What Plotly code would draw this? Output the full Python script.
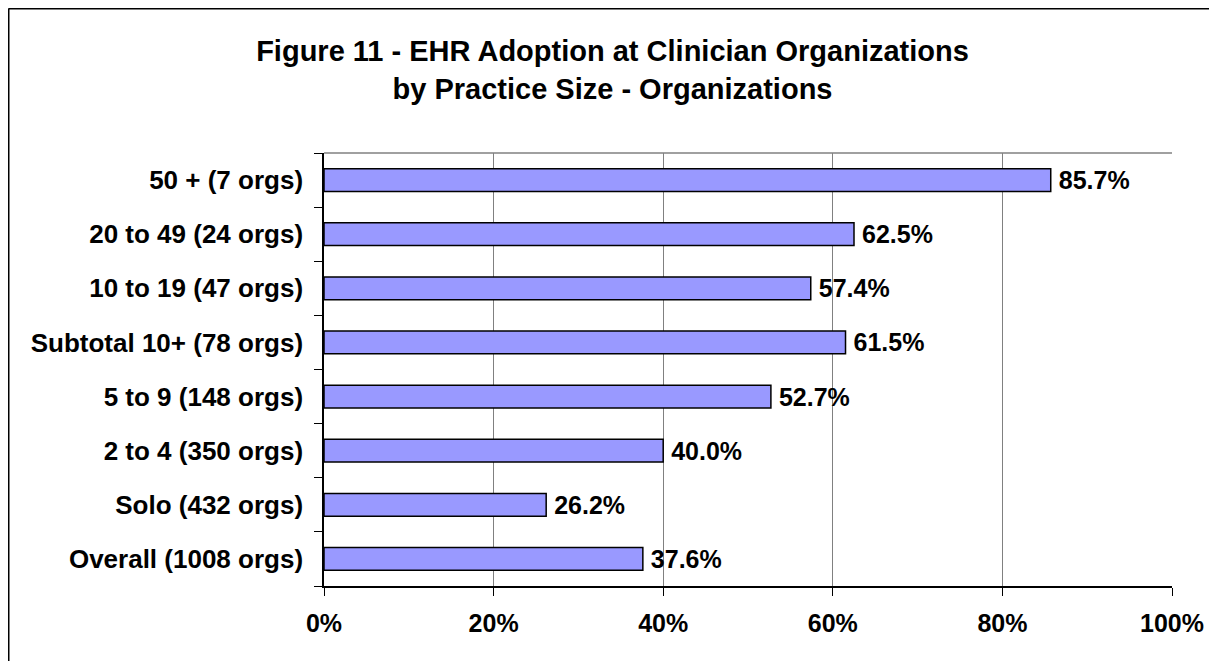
import plotly.graph_objects as go

categories = ["Overall (1008 orgs)", "Solo (432 orgs)", "2 to 4 (350 orgs)", "5 to 9 (148 orgs)",
              "Subtotal 10+ (78 orgs)", "10 to 19 (47 orgs)", "20 to 49 (24 orgs)", "50 + (7 orgs)"]
values = [0.376, 0.262, 0.400, 0.527, 0.615, 0.574, 0.625, 0.857]
x_ticks = [0, 0.2, 0.4, 0.6, 0.8, 1.0]
x_tick_labels = ["0%", "20%", "40%", "60%", "80%", "100%"]

FONT = "Liberation Sans, Arial, sans-serif"

fig = go.Figure(go.Bar(
    y=categories, x=values, orientation="h",
    marker=dict(color="#9999FF", line=dict(color="black", width=1.5)),
    width=0.42,
    text=[f"<b>\u2009{v*100:.1f}%</b>" for v in values],
    textposition="outside",
    constraintext="none",
    textfont=dict(family=FONT, size=25, color="black"),
    cliponaxis=False,
))

# the page body adds an 8px offset, so the figure is sized to fill the window
W, H = 1209, 653
L, R, T, B = 316, 45, 145, 75
pw, ph = W - L - R, H - T - B

def px_x(p):
    return (p - L) / pw

def px_y(p):
    return (H - B - p) / ph

fig.update_layout(
    width=W, height=H,
    margin=dict(l=L, r=R, t=T, b=B),
    paper_bgcolor="white", plot_bgcolor="white",
    showlegend=False,
    font=dict(family=FONT, color="black"),
    title=dict(
        text="<b>Figure 11 - EHR Adoption at Clinician Organizations<br>by Practice Size - Organizations</b>",
        x=0.5, xanchor="center", y=1 - 53 / H, yanchor="middle",
        font=dict(family=FONT, size=29, color="black"),
    ),
    xaxis=dict(
        range=[0, 1], tickvals=x_ticks, ticktext=[f"<b>{t}</b>" for t in x_tick_labels],
        showgrid=True, gridcolor="#808080", gridwidth=1,
        showline=True, linecolor="black", linewidth=1.5,
        ticks="outside", ticklen=8, tickcolor="black", tickwidth=1,
        tickfont=dict(family=FONT, size=25, color="black"),
        ticklabelstandoff=6, zeroline=False,
    ),
    yaxis=dict(
        categoryorder="array", categoryarray=categories,
        tickvals=categories, ticktext=[f"<b>{c}</b>" for c in categories],
        showline=True, linecolor="black", linewidth=1.5,
        ticks="outside", ticklen=8, tickcolor="black", tickwidth=1,
        tickson="boundaries", showgrid=False,
        tickfont=dict(family=FONT, size=26, color="black"),
        ticklabelstandoff=14,
    ),
    shapes=[
        dict(type="line", xref="paper", yref="paper", x0=0, x1=1, y0=1, y1=1,
             line=dict(color="#808080", width=1.5)),
        dict(type="line", xref="paper", yref="paper", x0=px_x(0.5), x1=px_x(W + 5), y0=px_y(0.5), y1=px_y(0.5),
             line=dict(color="black", width=2)),
        dict(type="line", xref="paper", yref="paper", x0=px_x(0.5), x1=px_x(0.5), y0=px_y(0.5), y1=px_y(H + 5),
             line=dict(color="black", width=2)),
    ],
)

fig.write_html("out.html")
